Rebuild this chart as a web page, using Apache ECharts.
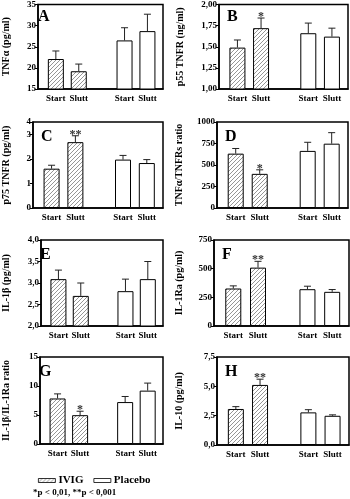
<!DOCTYPE html>
<html><head><meta charset="utf-8">
<script src="https://cdn.jsdelivr.net/npm/echarts@6/dist/echarts.min.js"></script>
<style>html,body{margin:0;padding:0;background:#fff}#c{width:350px;height:499px}</style>
</head><body><div id="c"></div>
<script>
// ---------- DATA ----------
const categories = ['Start', 'Slutt', '', 'Start', 'Slutt'];
const groupNames = ['IVIG', 'Placebo'];
const ivigIdx = [0, 1];
const placeboIdx = [3, 4];
const footnote = '*p < 0,01, **p < 0,001';

const letters = ['A', 'B', 'C', 'D', 'E', 'F', 'G', 'H'];
const yNames = ['TNFα (pg/ml)', 'p55 TNFR (ng/ml)', 'p75 TNFR (pg/ml)', 'TNFα/TNFRs ratio',
                'IL-1β (pg/ml)', 'IL-1Ra (pg/ml)', 'IL-1β/IL-1Ra ratio', 'IL-10 (pg/ml)'];

// order: IVIG Start, IVIG Slutt, Placebo Start, Placebo Slutt
const meanA = [22.1, 19.2, 26.5, 28.7];   const upperA = [24.0, 20.9, 29.5, 32.7];
const meanB = [1.49, 1.72, 1.66, 1.62];   const upperB = [1.58, 1.84, 1.78, 1.72];
const meanC = [1.60, 2.68, 1.97, 1.83];   const upperC = [1.74, 2.94, 2.14, 1.97];
const meanD = [632, 397, 664, 748];       const upperD = [692, 444, 764, 876];
const meanE = [3.09, 2.70, 2.81, 3.09];   const upperE = [3.30, 3.00, 3.09, 3.50];
const meanF = [327, 509, 321, 298];       const upperF = [350, 564, 347, 318];
const meanG = [7.85, 4.97, 7.23, 9.2];    const upperG = [8.64, 5.65, 8.19, 10.5];
const meanH = [3.07, 5.12, 2.78, 2.49];   const upperH = [3.27, 5.61, 3.01, 2.57];

const sigA = ['', '', '', ''];
const sigB = ['', '*', '', ''];
const sigC = ['', '**', '', ''];
const sigD = ['', '*', '', ''];
const sigE = ['', '', '', ''];
const sigF = ['', '**', '', ''];
const sigG = ['', '*', '', ''];
const sigH = ['', '**', '', ''];

// y-axis scales: [min, max, interval, decimals]
const yScaleA = [15, 35, 5, 0];
const yScaleB = [1, 2, 0.25, 2];
const yScaleC = [0, 3.5, 1, 0];
const yScaleD = [0, 1000, 250, 0];
const yScaleE = [2, 4, 0.5, 1];
const yScaleF = [0, 750, 250, 0];
const yScaleG = [0, 15, 5, 0];
const yScaleH = [0, 7.5, 2.5, 1];

const means = [meanA, meanB, meanC, meanD, meanE, meanF, meanG, meanH];
const uppers = [upperA, upperB, upperC, upperD, upperE, upperF, upperG, upperH];
const sigs = [sigA, sigB, sigC, sigD, sigE, sigF, sigG, sigH];
const yScales = [yScaleA, yScaleB, yScaleC, yScaleD, yScaleE, yScaleF, yScaleG, yScaleH];

// ---------- LAYOUT ----------
const gridBoxes = [
  {left: 30, top: 2, width: 133, height: 87, nameGap: 17},
  {left: 219, top: 2, width: 129, height: 87, nameGap: 24},
  {left: 33, top: 122, width: 130, height: 86, nameGap: 12},
  {left: 217, top: 122, width: 131, height: 86, nameGap: 23},
  {left: 32, top: 240, width: 131, height: 86, nameGap: 20},
  {left: 214, top: 240, width: 135, height: 86, nameGap: 20},
  {left: 31, top: 357, width: 132, height: 87, nameGap: 19},
  {left: 217, top: 357, width: 132, height: 88, nameGap: 23}
];

const FONT = '"Liberation Serif", "Times New Roman", serif';

// hatch pattern
const hatch = document.createElement('canvas');
hatch.width = 4; hatch.height = 4;
(function () {
  const ctx = hatch.getContext('2d');
  ctx.fillStyle = '#fff'; ctx.fillRect(0, 0, 4, 4);
  ctx.strokeStyle = '#8a8a8a'; ctx.lineWidth = 0.9;
  ctx.beginPath();
  ctx.moveTo(0, 4); ctx.lineTo(4, 0);
  ctx.moveTo(-1, 1); ctx.lineTo(1, -1);
  ctx.moveTo(3, 5); ctx.lineTo(5, 3);
  ctx.stroke();
})();
const hatchColor = {image: hatch, repeat: 'repeat'};

const chart = echarts.init(document.getElementById('c'), null, {renderer: 'canvas'});

const grids = [], xAxes = [], yAxes = [], series = [], graphics = [];

means.forEach((mean, p) => {
  const g = gridBoxes[p];
  const sc = yScales[p];
  grids.push({left: g.left, top: g.top, width: g.width, height: g.height, show: true,
    borderColor: '#000', borderWidth: 1.5, backgroundColor: 'transparent', containLabel: false});
  xAxes.push({type: 'value', gridIndex: p, min: -0.78, max: 4.68,
    splitLine: {show: false}, axisTick: {show: false},
    axisLine: {show: true, onZero: false, lineStyle: {color: '#000', width: 1.5}},
    axisLabel: {customValues: ivigIdx.concat(placeboIdx), formatter: v => categories[Math.round(v)],
      fontFamily: FONT, fontWeight: 'bold', fontSize: 9, color: '#000', margin: 5}});
  yAxes.push({type: 'value', gridIndex: p, min: sc[0], max: sc[1], interval: sc[2],
    name: yNames[p], nameLocation: 'middle', nameGap: g.nameGap + 10,
    nameTextStyle: {fontFamily: FONT, fontWeight: 'bold', fontSize: 10, color: '#000'},
    splitLine: {show: false},
    axisLine: {show: true, onZero: false, lineStyle: {color: '#000', width: 1.5}},
    axisTick: {show: true, length: 3, lineStyle: {color: '#000', width: 1}},
    axisLabel: {fontFamily: FONT, fontWeight: 'bold', fontSize: 9, color: '#000', margin: 2,
      formatter: v => v.toFixed(sc[3]).replace('.', ',')}});
  const idx = ivigIdx.concat(placeboIdx);
  series.push({type: 'bar', name: groupNames[0], xAxisIndex: p, yAxisIndex: p,
    barWidth: 16, barGap: '-100%',
    itemStyle: {color: hatchColor, borderColor: '#000', borderWidth: 1},
    data: ivigIdx.map((x, i) => [x, mean[i]])});
  series.push({type: 'bar', name: groupNames[1], xAxisIndex: p, yAxisIndex: p,
    barWidth: 16, barGap: '-100%',
    itemStyle: {color: '#fff', borderColor: '#000', borderWidth: 1},
    data: placeboIdx.map((x, i) => [x, mean[i + 2]])});
  const sig = sigs[p];
  series.push({type: 'custom', xAxisIndex: p, yAxisIndex: p, silent: true, z: 5,
    data: idx.map((x, i) => [x, mean[i], uppers[p][i]]),
    renderItem: (params, api) => {
      const x = api.value(0), m = api.value(1), u = api.value(2);
      const p0 = api.coord([x, m]), p1 = api.coord([x, u]);
      const cw = 3.5;
      const ch = [
        {type: 'line', shape: {x1: p0[0], y1: p0[1], x2: p1[0], y2: p1[1]}, style: {stroke: '#222', lineWidth: 1}},
        {type: 'line', shape: {x1: p1[0] - cw, y1: p1[1], x2: p1[0] + cw, y2: p1[1]}, style: {stroke: '#222', lineWidth: 1}}
      ];
      const s = sig[params.dataIndex];
      if (s) ch.push({type: 'text', style: {text: s, x: p1[0], y: p1[1] - 1, align: 'center', verticalAlign: 'middle',
        font: 'bold 12px ' + FONT, fill: '#333'}});
      return {type: 'group', children: ch};
    }});
  graphics.push({type: 'text', left: g.left + 8, top: g.top + 7,
    style: {text: letters[p], font: 'bold 16px ' + FONT, fill: '#000'}});
});

graphics.push({type: 'text', left: 33, top: 488, style: {text: footnote, font: 'bold 9px ' + FONT, fill: '#000'}});

chart.setOption({
  animation: false,
  backgroundColor: '#fff',
  grid: grids, xAxis: xAxes, yAxis: yAxes, series: series, graphic: graphics,
  legend: {data: groupNames, left: 33, top: 470, icon: 'rect', itemWidth: 17, itemHeight: 4, itemGap: 10,
    selectedMode: false, itemStyle: {borderWidth: 0.8},
    textStyle: {fontFamily: FONT, fontWeight: 'bold', fontSize: 11, color: '#000', padding: [0, 0, 0, -2]}}
});
</script></body></html>
